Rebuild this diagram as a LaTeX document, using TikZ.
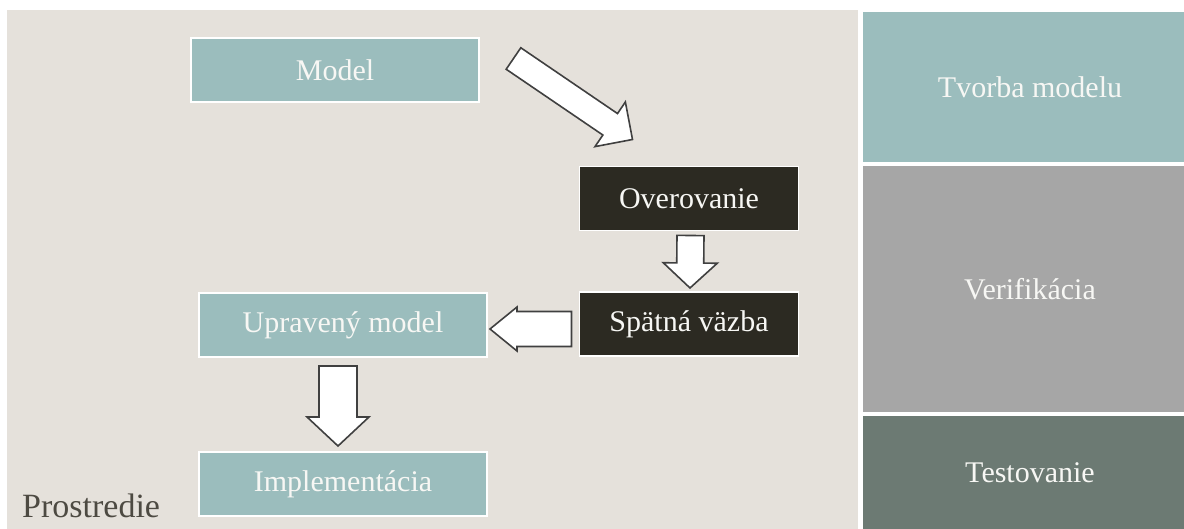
\documentclass[tikz,border=0pt]{standalone}
\usepackage{fontspec}
\setmainfont{Liberation Serif}
\usetikzlibrary{calc}

\definecolor{backdrop}{HTML}{E5E1DB}
\definecolor{teal}{HTML}{9BBDBD}
\definecolor{ink}{HTML}{2C2A22}
\definecolor{stone}{HTML}{A6A6A6}
\definecolor{slate}{HTML}{6C7A73}
\definecolor{envtext}{HTML}{4D4A42}
\definecolor{arrowline}{HTML}{404040}
\definecolor{paper}{HTML}{F7F7F4}

\tikzset{
  stagebox/.style={rectangle, draw=white, line width=1.5pt, inner sep=0pt,
    outer sep=0pt, text=paper, font=\fontsize{30}{36}\selectfont},
  lightbox/.style={stagebox, fill=teal},
  darkbox/.style={stagebox, fill=ink},
  panel/.style={draw=white, line width=1.5pt},
  barrow/.style={draw=arrowline, fill=white, line width=1.6pt, line join=miter},
}

% block arrow from #1 to #2: shaft half width #3, head half width #4, head length #5
\newcommand{\blockarrow}[5]{%
  \draw[barrow] let \p1=(#1), \p2=(#2),
      \n1={atan2(\y2-\y1,\x2-\x1)}, \n2={veclen(\x2-\x1,\y2-\y1)} in
    [shift={(\p1)}, rotate=\n1]
    (0,#3) -- ({\n2-#5},#3) -- ({\n2-#5},#4) -- (\n2,0)
    -- ({\n2-#5},-#4) -- ({\n2-#5},-#3) -- (0,-#3) -- cycle;}

\begin{document}
\begin{tikzpicture}[x=1pt, y=-1pt]
  \useasboundingbox (0,0) rectangle (1184,529);
  \fill[white] (0,0) rectangle (1184,529);

  % environment area
  \fill[backdrop] (7,10) rectangle (858,529);
  \node[anchor=base west, text=envtext, inner sep=0pt,
        font=\fontsize{34}{40}\selectfont] (env) at (22,517) {Prostredie};

  % phase panels on the right
  \fill[teal, panel] (862,11) rectangle (1200,163);
  \fill[stone, panel] (862,165) rectangle (1200,413);
  \fill[slate, panel] (862,415) rectangle (1200,535);
  \node[text=paper, font=\fontsize{30}{36}\selectfont] (tvorba) at (1030,87) {Tvorba modelu};
  \node[text=paper, font=\fontsize{30}{36}\selectfont] (verif) at (1030,289) {Verifikácia};
  \node[text=paper, font=\fontsize{30}{36}\selectfont] (test) at (1030,473) {Testovanie};

  % process steps
  \node[lightbox, minimum width=288, minimum height=64] (model) at (335,70) {Model};
  \node[darkbox, minimum width=219, minimum height=64] (over) at (689,198.5) {Overovanie};
  \node[darkbox, minimum width=219, minimum height=64] (spat) at (689,324) {Spätná väzba};
  \node[lightbox, minimum width=288, minimum height=64] (uprav) at (343,325) {Upravený model};
  \node[lightbox, minimum width=288, minimum height=64] (impl) at (343,484) {Implementácia};

  % block arrows between the steps
  \blockarrow{$(model.north east)+(34.5,20.5)$}{$(over.north west)+(53,-27)$}{13}{27}{27}
  \blockarrow{$(over.south)+(1.5,5)$}{$(spat.north)+(1,-4)$}{13.5}{27}{25}
  \blockarrow{$(spat.west)+(-8,5)$}{$(uprav.east)+(3,4)$}{17.5}{22}{27}
  \blockarrow{$(uprav.south)+(-5,9)$}{$(impl.north)+(-5,-6)$}{19}{31}{29}
\end{tikzpicture}
\end{document}
